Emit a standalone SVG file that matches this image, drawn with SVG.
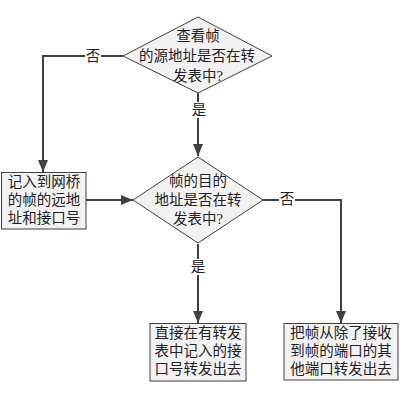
<svg xmlns="http://www.w3.org/2000/svg" width="400" height="400" viewBox="0 0 400 400">
<style>
.shape{fill:#f2f2f2;stroke:#404040;stroke-width:1}
.t{font-family:"Liberation Serif","Noto Sans CJK SC",serif;font-size:14.5px;fill:#222;text-anchor:middle;dominant-baseline:central}
.c{fill:none;stroke:#404040;stroke-width:2}
.lbl{fill:#ffffff;stroke:none}
</style>
<defs>
<marker id="ah" markerWidth="12" markerHeight="10" refX="12" refY="5" orient="auto" markerUnits="userSpaceOnUse">
<path d="M0,0 L12,5 L0,10 Z" fill="#404040"/>
</marker>
</defs>
<rect width="400" height="400" fill="#ffffff"/>
<g id="connectors">
<path class="c" d="M123,56 H43 V172" marker-end="url(#ah)"/>
<path class="c" d="M198,93 V156" marker-end="url(#ah)"/>
<path class="c" d="M86,200 H133" marker-end="url(#ah)"/>
<path class="c" d="M198,244 V323" marker-end="url(#ah)"/>
<path class="c" d="M263,200 H341 V323" marker-end="url(#ah)"/>
<rect class="lbl" x="85" y="48" width="16" height="16"/>
<text class="t" x="93" y="56">否</text>
<rect class="lbl" x="190" y="102" width="16" height="16"/>
<text class="t" x="199" y="110">是</text>
<rect class="lbl" x="190" y="259" width="16" height="16"/>
<text class="t" x="198" y="267">是</text>
<rect class="lbl" x="279" y="192" width="16" height="16"/>
<text class="t" x="287" y="199">否</text>
</g>
<g id="d1">
<polygon class="shape" points="198,17 272,56 198,93 123,56"/>
<text class="t" x="198" y="36">查看帧</text>
<text class="t" x="197" y="56">的源地址是否在转</text>
<text class="t" x="198" y="76">发表中?</text>
</g>
<g id="d2">
<polygon class="shape" points="198,157 263,200 198,243 133,200"/>
<text class="t" x="198" y="181">帧的目的</text>
<text class="t" x="198" y="200">地址是否在转</text>
<text class="t" x="198" y="219">发表中?</text>
</g>
<g id="b1">
<rect class="shape" x="1.5" y="172.5" width="84.5" height="56.5"/>
<text class="t" x="44" y="182">记入到网桥</text>
<text class="t" x="44" y="200">的帧的远地</text>
<text class="t" x="44" y="218">址和接口号</text>
</g>
<g id="b2">
<rect class="shape" x="150" y="323.5" width="96" height="57.5"/>
<text class="t" x="198" y="333">直接在有转发</text>
<text class="t" x="198" y="351">表中记入的接</text>
<text class="t" x="198" y="369">口号转发出去</text>
</g>
<g id="b3">
<rect class="shape" x="284" y="323.5" width="114" height="56.5"/>
<text class="t" x="341" y="333">把帧从除了接收</text>
<text class="t" x="341" y="351">到帧的端口的其</text>
<text class="t" x="341" y="369">他端口转发出去</text>
</g>
</svg>
